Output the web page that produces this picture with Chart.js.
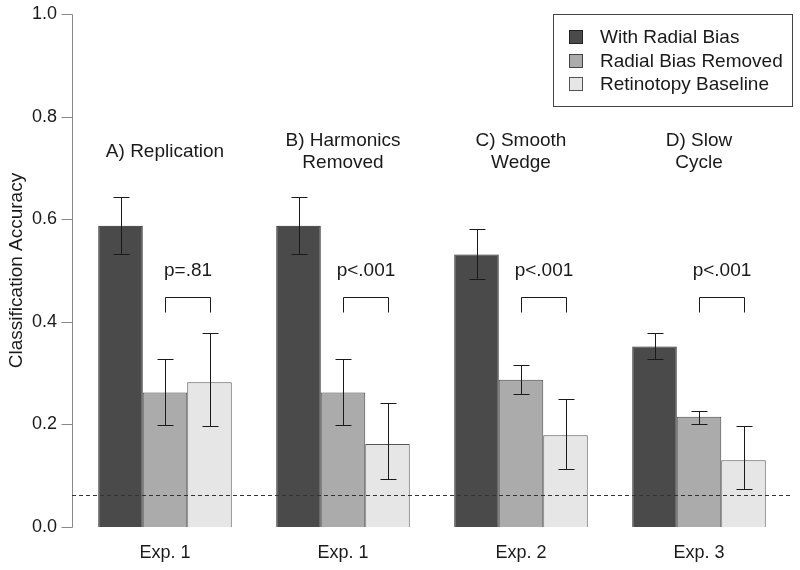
<!DOCTYPE html>
<html>
<head>
<meta charset="utf-8">
<script src="https://cdn.jsdelivr.net/npm/chart.js@4/dist/chart.umd.min.js"></script>
<style>
html,body{margin:0;padding:0;background:#fff;}
#wrap{width:800px;height:570px;}
</style>
</head>
<body>
<div id="wrap"><canvas id="c" width="800" height="570"></canvas></div>
<script>
// ---- data ----
const categories = ['Exp. 1', 'Exp. 1', 'Exp. 2', 'Exp. 3'];
const panelTitles = [['A) Replication'], ['B) Harmonics', 'Removed'], ['C) Smooth', 'Wedge'], ['D) Slow', 'Cycle']];
const seriesNames = ['With Radial Bias', 'Radial Bias Removed', 'Retinotopy Baseline'];
const withRadial = [0.587, 0.587, 0.531, 0.352];
const withRadialLow = [0.532, 0.532, 0.483, 0.327];
const withRadialHigh = [0.644, 0.644, 0.580, 0.379];
const biasRemoved = [0.262, 0.262, 0.287, 0.215];
const biasRemovedLow = [0.198, 0.198, 0.260, 0.201];
const biasRemovedHigh = [0.327, 0.327, 0.315, 0.227];
const baseline = [0.282, 0.162, 0.179, 0.130];
const baselineLow = [0.197, 0.093, 0.114, 0.075];
const baselineHigh = [0.379, 0.241, 0.249, 0.197];
const pLabels = ['p=.81', 'p<.001', 'p<.001', 'p<.001'];
const yTicks = [0, 0.2, 0.4, 0.6, 0.8, 1.0];
const chanceLevel = 0.0625;
const bracketTop = 0.448;
const bracketBottom = 0.419;
const pLabelLevel = 0.50;
const titleLevel = 0.731;

// ---- styles ----
const FONT = '"Liberation Sans", Arial, sans-serif';
const colors = ['#4a4a4a', '#ababab', '#e6e6e6'];
const borders = ['#222222', '#444444', '#555555'];
const lows = [withRadialLow, biasRemovedLow, baselineLow];
const highs = [withRadialHigh, biasRemovedHigh, baselineHigh];
const AXIS_GAP = 4;

const overlay = {
  id: 'overlay',
  afterDatasetsDraw(chart) {
    const ctx = chart.ctx;
    const y = chart.scales.y;
    const area = chart.chartArea;
    ctx.save();
    ctx.lineWidth = 1;
    // y axis line and ticks (R style, offset from plot)
    const ax = Math.round(area.left - AXIS_GAP) + 0.5;
    ctx.strokeStyle = '#888';
    ctx.beginPath();
    ctx.moveTo(ax, Math.round(y.getPixelForValue(yTicks[0])) + 0.5);
    ctx.lineTo(ax, Math.round(y.getPixelForValue(yTicks[yTicks.length - 1])) + 0.5);
    yTicks.forEach(v => {
      const ty = Math.round(y.getPixelForValue(v)) + 0.5;
      ctx.moveTo(ax - 11, ty); ctx.lineTo(ax, ty);
    });
    ctx.stroke();
    // chance line
    ctx.strokeStyle = '#333';
    ctx.setLineDash([4, 3]);
    const cy = Math.round(y.getPixelForValue(chanceLevel)) + 0.5;
    ctx.beginPath();
    ctx.moveTo(area.left - AXIS_GAP, cy);
    ctx.lineTo(area.right + AXIS_GAP, cy);
    ctx.stroke();
    ctx.setLineDash([]);
    // error bars
    ctx.strokeStyle = '#1a1a1a';
    for (let d = 0; d < 3; d++) {
      const meta = chart.getDatasetMeta(d);
      meta.data.forEach((bar, i) => {
        const x = Math.round(bar.x) + 0.5;
        const yl = Math.round(y.getPixelForValue(lows[d][i])) + 0.5;
        const yh = Math.round(y.getPixelForValue(highs[d][i])) + 0.5;
        ctx.beginPath();
        ctx.moveTo(x, yl); ctx.lineTo(x, yh);
        ctx.moveTo(x - 8, yl); ctx.lineTo(x + 8, yl);
        ctx.moveTo(x - 8, yh); ctx.lineTo(x + 8, yh);
        ctx.stroke();
      });
    }
    // brackets, p labels, titles
    const m1 = chart.getDatasetMeta(1), m2 = chart.getDatasetMeta(2);
    ctx.fillStyle = '#1a1a1a';
    ctx.textAlign = 'center';
    ctx.textBaseline = 'middle';
    categories.forEach((c, i) => {
      const x1 = Math.round(m1.data[i].x) + 0.5;
      const x2 = Math.round(m2.data[i].x) + 0.5;
      const yt = Math.round(y.getPixelForValue(bracketTop)) + 0.5;
      const yb = Math.round(y.getPixelForValue(bracketBottom)) + 0.5;
      ctx.strokeStyle = '#1a1a1a';
      ctx.beginPath();
      ctx.moveTo(x1, yb); ctx.lineTo(x1, yt); ctx.lineTo(x2, yt); ctx.lineTo(x2, yb);
      ctx.stroke();
      ctx.font = '19px ' + FONT;
      ctx.fillText(pLabels[i], (x1 + x2) / 2, y.getPixelForValue(pLabelLevel));
      const gx = m1.data[i].x;
      const lines = panelTitles[i];
      const lh = 22;
      const ty = y.getPixelForValue(titleLevel) - (lines.length - 1) * lh / 2;
      lines.forEach((t, k) => ctx.fillText(t, gx, ty + k * lh));
    });
    // legend
    const lx = 553, ly = 14, lw = 239, lhh = 92;
    ctx.fillStyle = '#fff';
    ctx.fillRect(lx, ly, lw, lhh);
    ctx.strokeStyle = '#444';
    ctx.strokeRect(lx + 0.5, ly + 0.5, lw, lhh);
    ctx.textAlign = 'left';
    ctx.font = '19px ' + FONT;
    const rows = [37, 61, 84];
    seriesNames.forEach((n, k) => {
      ctx.fillStyle = colors[k];
      ctx.fillRect(569, rows[k] - 7, 14, 14);
      ctx.strokeStyle = borders[k];
      ctx.strokeRect(569.5, rows[k] - 6.5, 13, 13);
      ctx.fillStyle = '#1a1a1a';
      ctx.fillText(n, 600, rows[k] + 1);
    });
    ctx.restore();
  }
};

new Chart(document.getElementById('c'), {
  type: 'bar',
  data: {
    labels: categories,
    datasets: [
      { label: seriesNames[0], data: withRadial, backgroundColor: colors[0], borderColor: borders[0], borderWidth: 1 },
      { label: seriesNames[1], data: biasRemoved, backgroundColor: colors[1], borderColor: borders[1], borderWidth: 1 },
      { label: seriesNames[2], data: baseline, backgroundColor: colors[2], borderColor: borders[2], borderWidth: 1 }
    ]
  },
  options: {
    responsive: false,
    animation: false,
    events: [],
    layout: { padding: { top: 14, right: 12, left: 0, bottom: 0 } },
    datasets: { bar: { categoryPercentage: 0.75, barPercentage: 1.0 } },
    plugins: { legend: { display: false }, tooltip: { enabled: false } },
    scales: {
      x: {
        grid: { display: false, drawTicks: false },
        border: { display: false },
        ticks: { color: '#1a1a1a', font: { family: FONT, size: 18 }, padding: 15 },
        afterFit(s) { s.height = 43; }
      },
      y: {
        min: 0, max: 1,
        afterBuildTicks(s) { s.ticks = yTicks.map(v => ({ value: v })); },
        ticks: { color: '#1a1a1a', font: { family: FONT, size: 18 }, padding: 3, callback: v => Number(v).toFixed(1) },
        grid: { display: false, drawTicks: true, tickLength: 16 },
        border: { display: false },
        title: { display: true, text: 'Classification Accuracy', color: '#1a1a1a', font: { family: FONT, size: 19 }, padding: { top: 5, bottom: 0 } },
        afterFit(s) { s.width = 76; }
      }
    }
  },
  plugins: [overlay]
});
</script>
</body>
</html>
